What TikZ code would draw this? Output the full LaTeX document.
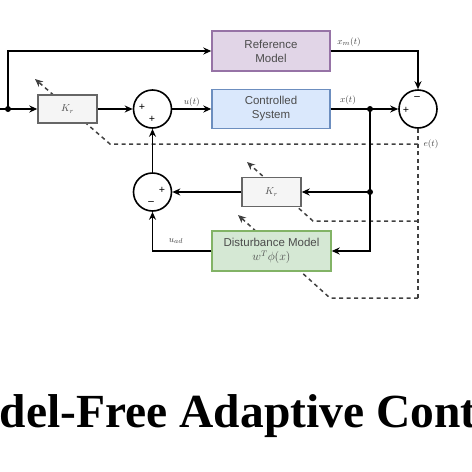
\documentclass[tikz,border=0pt]{standalone}
\usepackage{fontspec}
\setmainfont{Liberation Serif}
\newfontfamily\arialf{Liberation Sans}
\usetikzlibrary{arrows.meta,backgrounds}
\definecolor{refFill}{HTML}{E1D5E7}
\definecolor{refLine}{HTML}{9673A6}
\definecolor{sysFill}{HTML}{DAE8FC}
\definecolor{sysLine}{HTML}{6C8EBF}
\definecolor{disFill}{HTML}{D5E8D4}
\definecolor{disLine}{HTML}{82B366}
\definecolor{gainFill}{HTML}{F5F5F5}
\definecolor{gainLine}{HTML}{666666}
\begin{document}
\begin{tikzpicture}[x=1pt,y=-1pt,
  blk/.style={draw, line width=1.4pt, minimum width=118pt, minimum height=40pt, inner sep=0pt, align=center,
    font=\arialf\fontsize{11.5}{14}\selectfont, text=black!70},
  gain/.style={draw=gainLine, fill=gainFill, line width=1.4pt, minimum width=59pt, minimum height=28pt, inner sep=0pt,
    font=\fontsize{10}{12}\selectfont, text=black!70},
  sumc/.style={circle, draw, line width=1.6pt, minimum size=38pt, inner sep=0pt},
  conn/.style={line width=1.6pt, -{Stealth[length=8pt,width=7pt]}},
  plainline/.style={line width=1.6pt},
  adapt/.style={line width=1.5pt, dash pattern=on 4pt off 3.5pt, draw=black!75},
  adaptarrow/.style={adapt, -{Stealth[length=8pt,width=7pt]}},
  lbl/.style={font=\fontsize{9.5}{11}\selectfont, text=black!75, inner sep=1pt},
  sgn/.style={font=\bfseries\fontsize{11}{12}\selectfont, inner sep=0pt},
  dot/.style={circle, fill=black, minimum size=6pt, inner sep=0pt}
]
\clip (0,0) rectangle (472,472);

% blocks
\node[blk, draw=refLine, fill=refFill] (refm) at (271,51) {Reference\\Model};
\node[blk, draw=sysLine, fill=sysFill, minimum height=39pt] (plant) at (271,109) {Controlled\\System};
\node[blk, draw=disLine, fill=disFill, minimum width=119pt] (dist) at (271.5,251) {Disturbance Model\\$w^T\phi(x)$};
\node[gain] (kr1) at (67.5,109) {$K_r$};
\node[gain, minimum height=29pt] (kr2) at (271.5,192) {$K_r$};

% summing junctions
\node[sumc] (sum1) at (152.5,109) {};
\node[sumc] (sume) at (418,109) {};
\node[sumc] (sum2) at (152.5,192) {};

\node[sgn] (s1a) at (142,107) {+};
\node[sgn] (s1b) at (152,119) {+};
\node[sgn] (sea) at (417,98) {\textendash};
\node[sgn] (seb) at (406,110) {+};
\node[sgn] (s2a) at (162,190) {+};
\node[sgn] (s2b) at (151,203) {\textendash};

% coordinates
\coordinate (in) at (0,109);
\coordinate (j0) at (8,109);
\coordinate (j1) at (370,109);
\coordinate (j2) at (370,192);

% solid connectors
\draw[conn] (in) -- (kr1.west);
\draw[conn] (j0) |- (refm.west);
\draw[conn] (kr1.east) -- (sum1.west);
\draw[conn] (sum1.east) -- node[lbl, above, pos=0.5] (ulbl) {$u(t)$} (plant.west);
\draw[conn] (plant.east) -- (sume.west);
\node[lbl] (xlbl) at (348,100) {$x(t)$};
\draw[conn] (refm.east) -| (sume.north);
\node[lbl] (xmlbl) at (349,42) {$x_m(t)$};
\draw[plainline] (j1) -- (j2);
\draw[conn] (j2) -- (kr2.east);
\draw[conn] (j2) |- (dist.east);
\draw[conn] (kr2.west) -- (sum2.east);
\draw[conn] (dist.west) -| (sum2.south);
\node[lbl] (ualbl) at (176,241) {$u_{ad}$};
\draw[conn] (sum2.north) -- (sum1.south);

\node[dot] (d0) at (j0) {};
\node[dot] (d1) at (j1) {};
\node[dot] (d2) at (j2) {};

% adaptation (dashed) paths
\coordinate (e1) at (418,144);
\coordinate (e2) at (418,221);
\coordinate (e3) at (418,298);
\coordinate (a1) at (110,144);
\coordinate (t1) at (35,79);
\coordinate (a2) at (313,221);
\coordinate (t2) at (247,162);
\coordinate (a3) at (330,298);
\coordinate (t3) at (238,215);
\node[lbl] (elbl) at (431,144) {$e(t)$};

\begin{scope}[on background layer]
\draw[adapt] (sume.south) -- (e3);
\draw[adaptarrow] (e1) -- (a1) -- (t1);
\draw[adaptarrow] (e2) -- (a2) -- (t2);
\draw[adaptarrow] (e3) -- (a3) -- (t3);
\end{scope}

% title (cropped by the frame, as in the reference)
\node[anchor=base west, inner sep=0pt, font=\bfseries\fontsize{47.5}{50}\selectfont] (title) at (-69,427) {Model-Free Adaptive Control};
\end{tikzpicture}
\end{document}
